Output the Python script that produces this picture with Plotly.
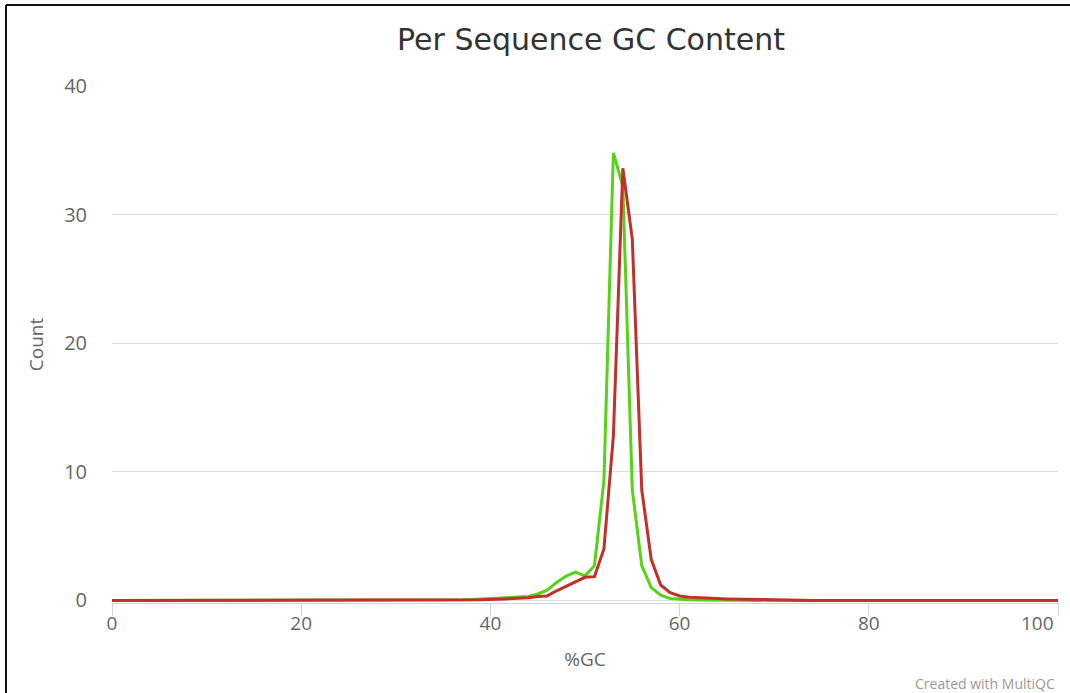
import plotly.graph_objects as go

gc_percent = list(range(0, 101))

green_vals = [0.0] * 101
red_vals = [0.0] * 101

green_points = {
    34: 0.02, 35: 0.03, 36: 0.04, 37: 0.05, 38: 0.07, 39: 0.1, 40: 0.13, 41: 0.17,
    42: 0.2, 43: 0.25, 44: 0.3, 45: 0.5, 46: 0.8, 47: 1.4, 48: 1.9, 49: 2.2,
    50: 1.9, 51: 2.7, 52: 9.3, 53: 34.8, 54: 32.2, 55: 8.6, 56: 2.7, 57: 1.0,
    58: 0.4, 59: 0.15, 60: 0.08, 61: 0.05, 62: 0.03, 63: 0.02, 64: 0.02,
}
red_points = {
    36: 0.02, 37: 0.03, 38: 0.04, 39: 0.05, 40: 0.07, 41: 0.1, 42: 0.12, 43: 0.15,
    44: 0.2, 45: 0.3, 46: 0.35, 47: 0.75, 48: 1.1, 49: 1.5, 50: 1.8, 51: 1.85,
    52: 4.0, 53: 12.8, 54: 33.6, 55: 28.1, 56: 8.6, 57: 3.2, 58: 1.2, 59: 0.6,
    60: 0.35, 61: 0.25, 62: 0.2, 63: 0.2, 64: 0.15, 65: 0.12, 66: 0.1, 67: 0.08,
    68: 0.07, 69: 0.05, 70: 0.04, 71: 0.03, 72: 0.02, 73: 0.01,
}
for k, v in green_points.items():
    green_vals[k] = v
for k, v in red_points.items():
    red_vals[k] = v

x_ticks = [0, 20, 40, 60, 80, 100]
x_tick_labels = ["0", "20", "40", "60", "80", "100"]
y_ticks = [0, 10, 20, 30, 40]

W, H = 1070, 693
ML, MR, MT, MB = 112, 12, 86, 90

fig = go.Figure()
fig.add_trace(go.Scatter(x=gc_percent, y=green_vals, mode="lines",
                         line=dict(color="#56d317", width=3), name="Sample 1",
                         showlegend=False))
fig.add_trace(go.Scatter(x=gc_percent, y=red_vals, mode="lines",
                         line=dict(color="#c3302a", width=3), name="Sample 2",
                         showlegend=False))

pw = W - ML - MR
ph = H - MT - MB


def px_x(p):
    return (p - ML) / pw


def px_y(p):
    return (H - MB - p) / ph


# last x tick label is drawn right-aligned (like the reference) so it stays inside
shown_labels = x_tick_labels[:-1] + [""]

fig.update_layout(
    width=W, height=H,
    margin=dict(l=ML, r=MR, t=MT, b=MB, autoexpand=False),
    paper_bgcolor="white", plot_bgcolor="white",
    font=dict(family="Open Sans", color="#666666"),
    title=dict(text="Per Sequence GC Content", x=591 / W, xanchor="center",
               y=1 - 39 / H, yanchor="middle", yref="container", xref="container",
               font=dict(size=30, color="#333333", family="DejaVu Sans")),
    xaxis=dict(range=[0, 100], tickvals=x_ticks, ticktext=shown_labels,
               showgrid=False, zeroline=False,
               showline=True, linecolor="#ccd6eb", linewidth=1,
               ticks="outside", ticklen=12, tickcolor="#ccd6eb", tickwidth=1,
               ticklabelstandoff=-9,
               tickfont=dict(size=19, color="#666666"),
               title=dict(text="%GC", font=dict(size=19, color="#666666"), standoff=17)),
    yaxis=dict(range=[-0.2, 40], tickvals=y_ticks, showgrid=True, gridcolor="#d8dce5",
               gridwidth=1, zeroline=False, showline=False, ticks="",
               ticklabelstandoff=24,
               tickfont=dict(size=20, color="#666666"),
               title=dict(text="Count", font=dict(size=19, color="#666666"), standoff=15)),
    annotations=[
        dict(text=x_tick_labels[-1], xref="x", yref="paper",
             x=x_ticks[-1], y=px_y(623), xanchor="right", yanchor="middle",
             xshift=-2, showarrow=False, font=dict(size=19, color="#666666")),
        dict(text="Created with MultiQC", xref="paper", yref="paper",
             x=px_x(1057), y=px_y(683), xanchor="right", yanchor="middle",
             showarrow=False, font=dict(size=14, color="#999999")),
    ],
    shapes=[
        dict(type="line", xref="paper", yref="paper", x0=px_x(6), x1=px_x(6),
             y0=px_y(5), y1=px_y(700), line=dict(color="#111111", width=2)),
        dict(type="line", xref="paper", yref="paper", x0=px_x(6), x1=px_x(1075),
             y0=px_y(5), y1=px_y(5), line=dict(color="#111111", width=2)),
    ],
)

fig.write_html("out.html", config={"displayModeBar": False})

with open("out.html", "r", encoding="utf-8") as f:
    html = f.read()
html = html.replace("<body>", '<body style="margin:0;padding:0;overflow:hidden">', 1)
html = html.replace("<head>", '<head><style>html,body{margin:0;padding:0;overflow:hidden}</style>', 1)
with open("out.html", "w", encoding="utf-8") as f:
    f.write(html)
